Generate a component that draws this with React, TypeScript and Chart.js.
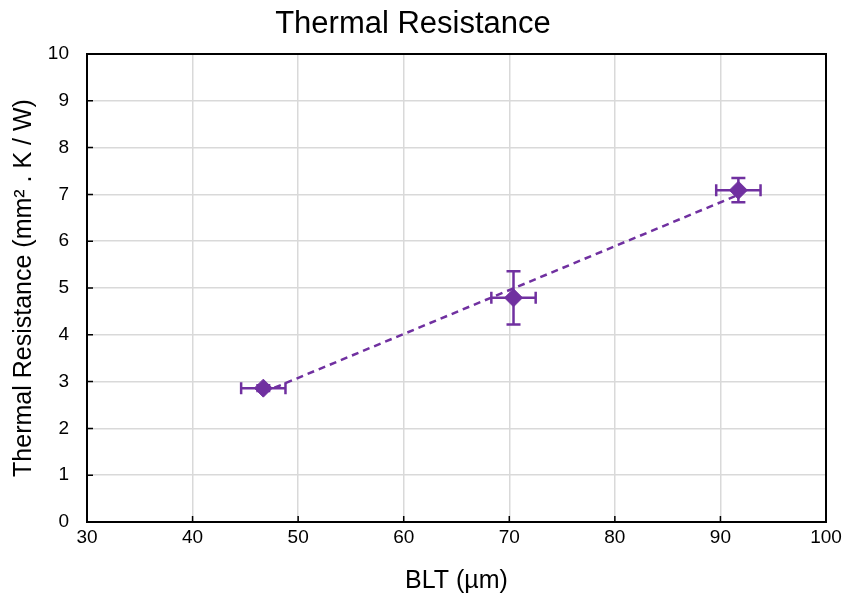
import React, { useEffect, useRef } from "react";
import { Chart, registerables } from "chart.js";

Chart.register(...registerables);

const pointX = [46.7, 70.4, 91.7];
const pointY = [2.86, 4.79, 7.09];
const errX = [2.1, 2.1, 2.1];
const errY = [0.06, 0.57, 0.26];
const trendX = [46.7, 91.7];
const trendY = [2.77, 6.99];

const PURPLE = "#7030a0";
const FONT = "'Liberation Sans', Arial, Helvetica, sans-serif";

const errorBarPlugin = {
  id: "errorBars",
  beforeDatasetsDraw(chart: any) {
    const { ctx, chartArea, scales } = chart;
    const xs = scales.x;
    const ys = scales.y;
    ctx.save();
    // inner tick marks
    ctx.strokeStyle = "#000";
    ctx.lineWidth = 1.5;
    ctx.beginPath();
    for (let v = 40; v < 100; v += 10) {
      const px = xs.getPixelForValue(v);
      ctx.moveTo(px, chartArea.bottom);
      ctx.lineTo(px, chartArea.bottom - 6);
    }
    for (let v = 1; v < 10; v += 1) {
      const py = ys.getPixelForValue(v);
      ctx.moveTo(chartArea.left, py);
      ctx.lineTo(chartArea.left + 6, py);
    }
    ctx.stroke();
    // frame
    ctx.lineWidth = 2;
    ctx.strokeRect(chartArea.left, chartArea.top, chartArea.right - chartArea.left, chartArea.bottom - chartArea.top);
    // error bars
    ctx.strokeStyle = PURPLE;
    ctx.lineWidth = 2.5;
    ctx.beginPath();
    for (let i = 0; i < pointX.length; i++) {
      const cx = xs.getPixelForValue(pointX[i]);
      const cy = ys.getPixelForValue(pointY[i]);
      const x0 = xs.getPixelForValue(pointX[i] - errX[i]);
      const x1 = xs.getPixelForValue(pointX[i] + errX[i]);
      const y0 = ys.getPixelForValue(pointY[i] - errY[i]);
      const y1 = ys.getPixelForValue(pointY[i] + errY[i]);
      ctx.moveTo(x0, cy);
      ctx.lineTo(x1, cy);
      ctx.moveTo(x0, cy - 6);
      ctx.lineTo(x0, cy + 6);
      ctx.moveTo(x1, cy - 6);
      ctx.lineTo(x1, cy + 6);
      ctx.moveTo(cx, y0);
      ctx.lineTo(cx, y1);
      ctx.moveTo(cx - 7, y0);
      ctx.lineTo(cx + 7, y0);
      ctx.moveTo(cx - 7, y1);
      ctx.lineTo(cx + 7, y1);
    }
    ctx.stroke();
    ctx.restore();
  },
};

export default function App() {
  const ref = useRef<HTMLCanvasElement | null>(null);
  useEffect(() => {
    document.body.style.margin = "0";
    const canvas = ref.current!;
    const chart = new Chart(canvas, {
      type: "scatter",
      data: {
        datasets: [
          {
            label: "Thermal Resistance",
            data: pointX.map((x, i) => ({ x, y: pointY[i] })),
            pointStyle: "rectRot",
            pointRadius: 9,
            pointBackgroundColor: PURPLE,
            pointBorderColor: PURPLE,
            pointBorderWidth: 1,
            showLine: false,
          },
          {
            label: "Trend",
            data: trendX.map((x, i) => ({ x, y: trendY[i] })),
            showLine: true,
            borderColor: PURPLE,
            borderWidth: 2.5,
            borderDash: [7, 5],
            pointRadius: 0,
            fill: false,
          },
        ],
      },
      options: {
        animation: false,
        responsive: false,
        devicePixelRatio: 1,
        layout: { padding: { top: 0, right: 18, bottom: 0, left: 0 } },
        plugins: {
          legend: { display: false },
          tooltip: { enabled: false },
          title: {
            display: true,
            text: "Thermal Resistance",
            color: "#000",
            font: { family: FONT, size: 31, weight: "normal" },
            padding: { top: 5.5, bottom: 11.3 },
          },
        },
        scales: {
          x: {
            type: "linear",
            min: 30,
            max: 100,
            ticks: { stepSize: 10, color: "#000", font: { family: FONT, size: 19 }, padding: 4 },
            grid: { color: "#d9d9d9", lineWidth: 1.5, drawTicks: false },
            border: { display: false },
            title: {
              display: true,
              text: "BLT (µm)",
              color: "#000",
              font: { family: FONT, size: 25 },
              padding: { top: 0, bottom: 1 },
            },
            afterFit: (s: any) => {
              s.height = 75;
              s.paddingLeft = 0;
              s.paddingRight = 0;
            },
          },
          y: {
            type: "linear",
            min: 0,
            max: 10,
            ticks: { stepSize: 1, color: "#000", font: { family: FONT, size: 19 }, padding: 18 },
            grid: { color: "#d9d9d9", lineWidth: 1.5, drawTicks: false },
            border: { display: false },
            title: {
              display: true,
              text: "Thermal Resistance (mm² . K / W)",
              color: "#000",
              font: { family: FONT, size: 25 },
              padding: { top: 9, bottom: 0 },
            },
            afterFit: (s: any) => {
              s.width = 87;
              s.paddingTop = 0;
              s.paddingBottom = 0;
            },
          },
        },
      },
      plugins: [errorBarPlugin],
    });
    return () => chart.destroy();
  }, []);
  return <canvas ref={ref} width={844} height={597} style={{ display: "block" }} />;
}
